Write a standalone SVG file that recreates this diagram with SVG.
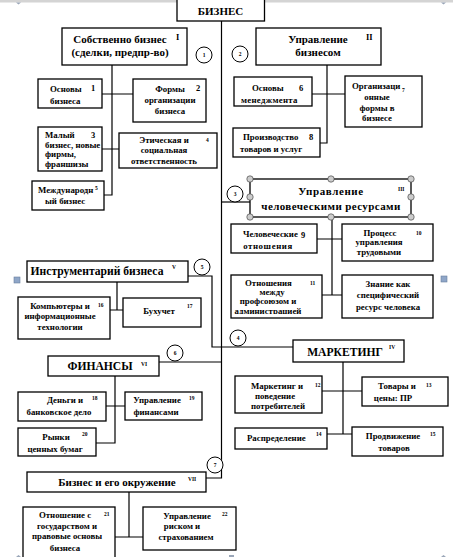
<svg xmlns="http://www.w3.org/2000/svg" width="453" height="557" viewBox="0 0 453 557">
<style>
.b{fill:#fff;stroke:#000;stroke-width:1.3}
.c{fill:none;stroke:#000;stroke-width:1.2}
.t{font-family:"Liberation Serif","Times New Roman",serif;font-weight:bold;font-size:8.8px;fill:#000}
.m{text-anchor:middle}
.n{font-family:"Liberation Serif",serif;font-weight:bold;font-size:5.5px;fill:#000}
.n2{font-family:"Liberation Serif",serif;font-weight:bold;font-size:8.5px;fill:#000}
.h{font-family:"Liberation Serif",serif;font-weight:bold;font-size:11px;fill:#000;text-anchor:middle}
.h2{font-family:"Liberation Serif",serif;font-weight:bold;font-size:11.6px;fill:#000;text-anchor:middle}
.ci{fill:#fff;stroke:#000;stroke-width:1}
.cn{font-family:"Liberation Serif",serif;font-weight:bold;font-size:5.5px;text-anchor:middle;fill:#000}
.hd{fill:#ccc;stroke:#333;stroke-width:0.6}
.sq{fill:#8fa6c8;stroke:#6a7f9f;stroke-width:0.6}
.mk{fill:#9aa6b8}
</style>
<defs>
<clipPath id="clip11"><rect x="231" y="275" width="91" height="39"/></clipPath>
</defs>
<rect x="0" y="0" width="453" height="2.5" fill="#d4d4d4"/>
<path class="mk" d="M16 2.5h5l-2.5 2z M219 2.5h5v2h-5z M441 2.5h5l-2.5 2z M16 557h5l-2.5-2z M229 557h5v-2h-5z M441 557h5l-2.5-2z"/>

<g id="connectors">
  <path class="c" d="M221.5 21V478H206"/>
  <path class="c" d="M112 65V195H104 M102 94H133 M102 149H119"/>
  <path class="c" d="M327 65V143H320 M312 94H345"/>
  <path class="c" d="M221.5 202H250"/>
  <path class="c" d="M332 217V295 M317 239H342 M322 295H342"/>
  <path class="c" d="M188 276H212V347H221.5"/>
  <path class="c" d="M117 282V310 M110 310H123"/>
  <path class="c" d="M221.5 347H293"/>
  <path class="c" d="M343 362V434 M322 391H362 M327 434H352"/>
  <path class="c" d="M159 362H221.5"/>
  <path class="c" d="M115 376V443H96 M106 406H125"/>
  <path class="c" d="M129 492V537 M115 537H143"/>
</g>

<g id="n_root"><rect class="b" x="177" y="-1" width="87.5" height="22"/><text class="h" x="220.5" y="15">БИЗНЕС</text></g>

<g id="c1"><circle class="ci" cx="204" cy="55" r="8"/><text class="cn" x="204" y="57">1</text></g>
<g id="c2"><circle class="ci" cx="240" cy="54" r="8"/><text class="cn" x="240" y="56">2</text></g>
<g id="c3"><circle class="ci" cx="235" cy="194" r="8"/><text class="cn" x="235" y="196">3</text></g>
<g id="c4"><circle class="ci" cx="238" cy="338" r="8"/><text class="cn" x="238" y="340">4</text></g>
<g id="c5"><circle class="ci" cx="202" cy="267" r="8"/><text class="cn" x="202" y="269">5</text></g>
<g id="c6"><circle class="ci" cx="175" cy="353" r="8"/><text class="cn" x="175" y="355">6</text></g>
<g id="c7"><circle class="ci" cx="215" cy="465" r="8"/><text class="cn" x="215" y="467">7</text></g>

<g id="n_I"><rect class="b" x="62" y="28" width="125" height="37"/>
<text class="h" x="120" y="43">Собственно  бизнес</text><text class="h" x="120" y="56">(сделки,  предпр-во)</text><text class="n2" x="176" y="40">I</text></g>

<g id="n_II"><rect class="b" x="256" y="28" width="125" height="37"/>
<text class="h" x="318" y="43">Управление</text><text class="h" x="318" y="56">бизнесом</text><text class="n2" x="366" y="40">II</text></g>

<g id="n1"><rect class="b" x="38" y="79" width="64" height="29"/>
<text class="t" x="50" y="92">Основы</text><text class="n2" x="91" y="91">1</text><text class="t" x="50" y="104">бизнеса</text></g>

<g id="n2"><rect class="b" x="133" y="79" width="73" height="43"/>
<text class="t m" x="170" y="92">Формы</text><text class="n2" x="196" y="91">2</text><text class="t m" x="170" y="103">организации</text><text class="t m" x="170" y="114">бизнеса</text></g>

<g id="n3"><rect class="b" x="38" y="127" width="64" height="44"/>
<text class="t" x="45" y="138">Малый</text><text class="n2" x="91" y="138">3</text><text class="t" x="45" y="148">бизнес, новые</text><text class="t" x="45" y="157">фирмы,</text><text class="t" x="45" y="167">франшизы</text></g>

<g id="n4"><rect class="b" x="119" y="133" width="98" height="35"/>
<text class="t m" x="164" y="143">Этическая и</text><text class="n" x="206" y="142">4</text><text class="t m" x="164" y="153">социальная</text><text class="t m" x="164" y="164">ответственность</text></g>

<g id="n5"><rect class="b" x="32" y="181" width="72" height="29"/>
<text class="t" x="38" y="193">Международн</text><text class="n" x="95" y="190">5</text><text class="t" x="45" y="204">ый бизнес</text></g>

<g id="n6"><rect class="b" x="234" y="77" width="78" height="29"/>
<text class="t" x="252" y="91">Основы</text><text class="n2" x="299" y="91">6</text><text class="t" x="241" y="103" letter-spacing="0.3">менеджмента</text></g>

<g id="n7"><rect class="b" x="345" y="76" width="77" height="51"/>
<text class="t" x="352" y="89">Организаци</text><text class="n" x="402" y="92">7</text><text class="t m" x="377" y="100">онные</text><text class="t m" x="377" y="111">формы в</text><text class="t m" x="377" y="121">бизнесе</text></g>

<g id="n8"><rect class="b" x="233" y="128" width="87" height="29"/>
<text class="t" x="243" y="140">Производство</text><text class="n2" x="309" y="140">8</text><text class="t" x="240" y="152">товаров и услуг</text></g>

<g id="n_III"><rect class="b" x="250" y="179" width="161" height="38"/>
<text class="h" x="331" y="195" letter-spacing="0.6">Управление</text><text class="h" x="331" y="210" letter-spacing="0.4">человеческими  ресурсами</text><text class="n" x="398" y="191">III</text>
<g class="hd"><circle cx="250" cy="179" r="3.2"/><circle cx="331" cy="179" r="3.2"/><circle cx="411" cy="179" r="3.2"/><circle cx="250" cy="197" r="3.2"/><circle cx="411" cy="197" r="3.2"/><circle cx="250" cy="217" r="3.2"/><circle cx="331" cy="217" r="3.2"/><circle cx="411" cy="217" r="3.2"/></g></g>

<g id="n9"><rect class="b" x="231" y="224" width="86" height="29"/>
<text class="t" x="243" y="237">Человеческие</text><text class="n2" x="301" y="238">9</text><text class="t m" x="268" y="249" letter-spacing="0.6">отношения</text></g>

<g id="n10"><rect class="b" x="342" y="224" width="91" height="37"/>
<text class="t m" x="380" y="236">Процесс</text><text class="n" x="416" y="235">10</text><text class="t m" x="379" y="245">управления</text><text class="t m" x="379" y="255">трудовыми</text></g>

<g id="n11"><rect class="b" x="231" y="275" width="91" height="43"/>
<g clip-path="url(#clip11)"><text class="t" x="245" y="286">Отношения</text><text class="n" x="310" y="285">11</text><text class="t m" x="272" y="295">между</text><text class="t m" x="268" y="304">профсоюзом и</text><text class="t m" x="268" y="314">администрацией</text></g></g>

<g id="n12k"><rect class="b" x="342" y="275" width="91" height="43"/>
<text class="t m" x="388" y="287">Знание как</text><text class="t m" x="388" y="298">специфический</text><text class="t m" x="388" y="310">ресурс человека</text></g>
<rect class="sq" x="441" y="276" width="6" height="6"/>

<g id="n_V"><rect class="b" x="27" y="261" width="161" height="21"/>
<text class="h2" x="97" y="275">Инструментарий  бизнеса</text><text class="n" x="172" y="269">V</text></g>
<rect class="sq" x="14" y="277" width="6" height="6"/>

<g id="n16"><rect class="b" x="18" y="297" width="92" height="42"/>
<text class="t m" x="60" y="309">Компьютеры и</text><text class="n" x="98" y="307">16</text><text class="t m" x="60" y="319">информационные</text><text class="t m" x="60" y="330">технологии</text></g>

<g id="n17"><rect class="b" x="123" y="298" width="78" height="29"/>
<text class="t m" x="159" y="314">Бухучет</text><text class="n" x="187" y="308">17</text></g>

<g id="n_IV"><rect class="b" x="293" y="340" width="111" height="22"/>
<text class="h2" x="345" y="356">МАРКЕТИНГ</text><text class="n" x="389" y="349">IV</text></g>

<g id="n12"><rect class="b" x="235" y="376" width="87" height="37"/>
<text class="t m" x="277" y="389">Маркетинг и</text><text class="n" x="315" y="387">12</text><text class="t m" x="275" y="399">поведение</text><text class="t m" x="278" y="409">потребителей</text></g>

<g id="n13"><rect class="b" x="362" y="377" width="86" height="29"/>
<text class="t m" x="397" y="389">Товары и</text><text class="n" x="426" y="387">13</text><text class="t m" x="393" y="401">цены: ПР</text></g>

<g id="n14"><rect class="b" x="235" y="428" width="92" height="21"/>
<text class="t" x="247" y="441">Распределение</text><text class="n" x="316" y="436">14</text></g>

<g id="n15"><rect class="b" x="352" y="427" width="91" height="29"/>
<text class="t m" x="393" y="439">Продвижение</text><text class="n" x="430" y="436">15</text><text class="t m" x="394" y="451">товаров</text></g>

<g id="n_VI"><rect class="b" x="48" y="356" width="111" height="20"/>
<text class="h2" x="100" y="370">ФИНАНСЫ</text><text class="n" x="141" y="366">VI</text></g>

<g id="n18"><rect class="b" x="18" y="392" width="88" height="29"/>
<text class="t m" x="65" y="403">Деньги и</text><text class="n" x="92" y="400">18</text><text class="t m" x="59" y="415">банковское дело</text></g>

<g id="n19"><rect class="b" x="125" y="392" width="77" height="28"/>
<text class="t m" x="157" y="403">Управление</text><text class="n" x="189" y="400">19</text><text class="t m" x="156" y="415">финансами</text></g>

<g id="n20"><rect class="b" x="18" y="428" width="78" height="28"/>
<text class="t m" x="56" y="440">Рынки</text><text class="n" x="82" y="436">20</text><text class="t m" x="55" y="452">ценных бумаг</text></g>

<g id="n_VII"><rect class="b" x="27" y="472" width="179" height="20"/>
<text class="h" x="117" y="486">Бизнес  и его окружение</text><text class="n" x="188" y="481">VII</text></g>

<g id="n21"><rect class="b" x="23" y="507" width="92" height="52"/>
<text class="t m" x="65" y="518">Отношение с</text><text class="n" x="104" y="516">21</text><text class="t m" x="67" y="529">государством и</text><text class="t m" x="67" y="539">правовые основы</text><text class="t m" x="65" y="551">бизнеса</text></g>

<g id="n22"><rect class="b" x="143" y="507" width="93" height="43"/>
<text class="t m" x="187" y="519">Управление</text><text class="n" x="222" y="516">22</text><text class="t m" x="182" y="529">риском и</text><text class="t m" x="186" y="540">страхованием</text></g>
</svg>
